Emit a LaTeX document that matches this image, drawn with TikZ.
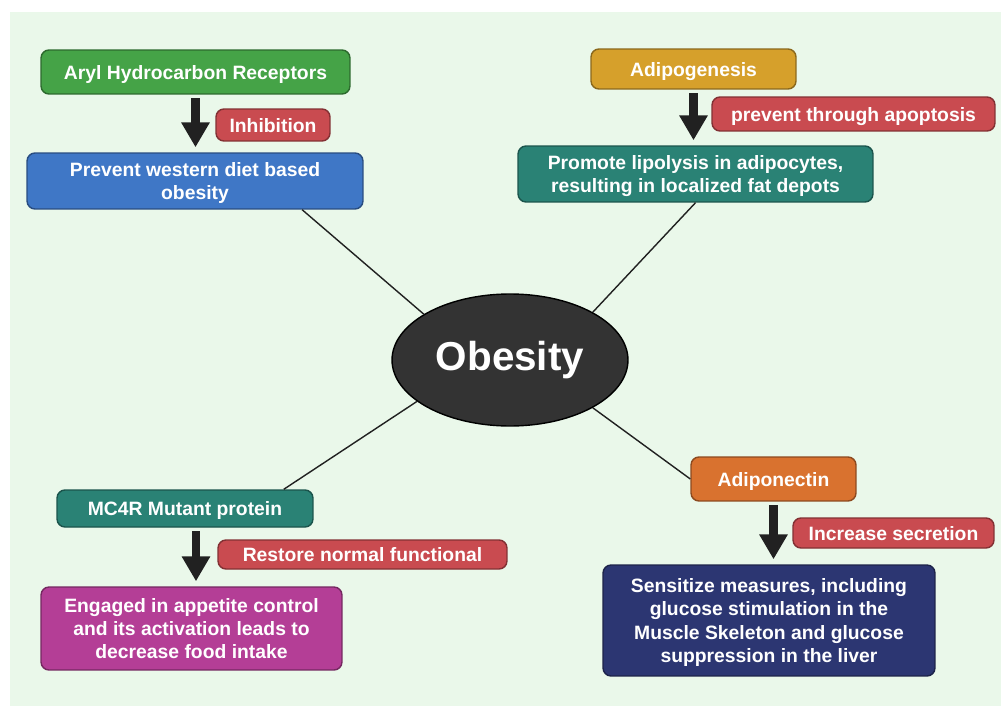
\documentclass[tikz,border=0pt]{standalone}
\usepackage{fontspec}
\setmainfont{Liberation Sans}
\usepackage{tikz}
\usetikzlibrary{arrows.meta,calc,shapes.geometric,positioning}

\definecolor{bgmint}{HTML}{EAF8EA}
\definecolor{arylgreen}{HTML}{45A347}
\definecolor{labelred}{HTML}{C94B50}
\definecolor{dietblue}{HTML}{3F77C6}
\definecolor{adipogold}{HTML}{D6A02B}
\definecolor{lipoteal}{HTML}{2A8275}
\definecolor{appmagenta}{HTML}{B43E96}
\definecolor{adiporange}{HTML}{D9722F}
\definecolor{glucnavy}{HTML}{2C3672}
\definecolor{hubgray}{HTML}{333333}

\begin{document}
\begin{tikzpicture}[x=0.02cm,y=-0.02cm,
  box/.style={fill=#1,draw=#1!65!black,line width=0.8pt,rounded corners=0.16cm,
    text=white,align=center,inner sep=2pt,text depth=0pt,
    font=\bfseries\fontsize{11}{13.3}\selectfont},
  tag/.style={box=labelred},
  flow/.style={draw=black!87,line width=0.18cm,shorten <=0.07cm,shorten >=0.1cm,
    -{Triangle[width=0.54cm,length=0.5cm]}},
  link/.style={draw=black!87,line width=0.8pt}]
  \useasboundingbox (0,0) rectangle (1001,706);
  \fill[bgmint] (10,12) rectangle (1001,706);
  % Hub
  \node[ellipse,fill=hubgray,draw=black,line width=0.8pt,minimum width=4.72cm,
    minimum height=2.64cm,text=white,font=\bfseries\fontsize{23}{27}\selectfont]
    (obesity) at (510,360) {Obesity};
  % Top left: aryl hydrocarbon receptors
  \node[box=arylgreen,minimum width=6.18cm,minimum height=0.88cm] (aryl) at (195.5,72)
    {Aryl Hydrocarbon Receptors};
  \node[box=dietblue,minimum width=6.72cm,minimum height=1.12cm] (prevent) at (195,181)
    {Prevent western diet based\\obesity};
  \node[tag,minimum width=2.28cm,minimum height=0.64cm] (inhib) at (273,125) {Inhibition};
  \draw[flow] (aryl.south) -- (aryl.south |- prevent.north);
  % Top right: adipogenesis
  \node[box=adipogold,minimum width=4.10cm,minimum height=0.80cm] (adipog) at (693.5,69)
    {Adipogenesis};
  \node[box=lipoteal,minimum width=7.10cm,minimum height=1.12cm] (promote) at (695.5,174)
    {Promote lipolysis in adipocytes,\\resulting in localized fat depots};
  \node[tag,minimum width=5.66cm,minimum height=0.68cm] (apopt) at (853.5,114)
    {prevent through apoptosis};
  \draw[flow] (adipog.south) -- (adipog.south |- promote.north);
  % Bottom left: MC4R
  \node[box=lipoteal,minimum width=5.12cm,minimum height=0.74cm] (mc4r) at (185,508.5)
    {MC4R Mutant protein};
  \node[box=appmagenta,minimum width=6.02cm,minimum height=1.66cm] (engaged) at (191.5,628.5)
    {Engaged in appetite control\\and its activation leads to\\decrease food intake};
  \node[tag,minimum width=5.78cm,minimum height=0.58cm] (restore) at (362.5,554.5)
    {Restore normal functional};
  \draw[flow] ([xshift=0.22cm]mc4r.south) -- ([xshift=0.22cm]mc4r.south |- engaged.north);
  % Bottom right: adiponectin
  \node[box=adiporange,minimum width=3.30cm,minimum height=0.88cm] (adipon) at (773.5,479)
    {Adiponectin};
  \node[box=glucnavy,minimum width=6.64cm,minimum height=2.22cm] (sensit) at (769,620.5)
    {Sensitize measures, including\\glucose stimulation in the\\Muscle Skeleton and glucose\\suppression in the liver};
  \node[tag,minimum width=4.02cm,minimum height=0.60cm] (secret) at (893.5,533)
    {Increase secretion};
  \draw[flow] (adipon.south) -- (adipon.south |- sensit.north);
  % Links to the hub
  \draw[link] (prevent.-15.6) -- (obesity.152);
  \draw[link] (promote.south) -- (obesity.30);
  \draw[link] (mc4r.11) -- (obesity.204);
  \draw[link] (obesity.-30) -- (adipon.west);
\end{tikzpicture}
\end{document}
